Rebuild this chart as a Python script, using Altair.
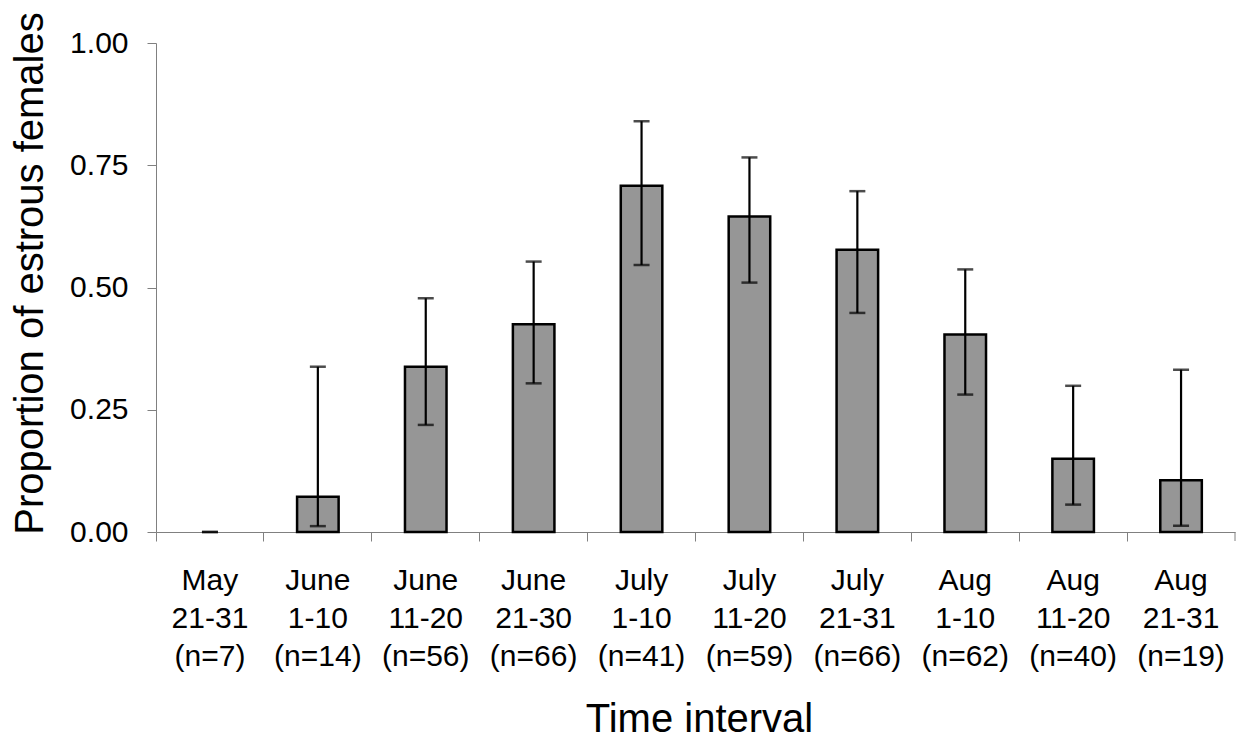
import altair as alt
import pandas as pd

months = ["May", "June", "June", "June", "July", "July", "July", "Aug", "Aug", "Aug"]
ranges = ["21-31", "1-10", "11-20", "21-30", "1-10", "11-20", "21-31", "1-10", "11-20", "21-31"]
sample_n = [7, 14, 56, 66, 41, 59, 66, 62, 40, 19]
proportion = [0.0, 0.072, 0.338, 0.425, 0.708, 0.645, 0.577, 0.404, 0.150, 0.106]
upper = [0.0, 0.338, 0.478, 0.553, 0.840, 0.766, 0.697, 0.537, 0.299, 0.332]
lower = [0.0, 0.012, 0.219, 0.304, 0.546, 0.510, 0.448, 0.281, 0.056, 0.013]

labels = [f"{m}\n{r}\n(n={n})" for m, r, n in zip(months, ranges, sample_n)]
df = pd.DataFrame({"label": labels, "value": proportion, "upper": upper, "lower": lower})

FONT = "Liberation Sans"
W, H = 1079, 489

x_enc = alt.X(
    "label:N",
    sort=labels,
    scale=alt.Scale(paddingInner=0, paddingOuter=0),
    axis=alt.Axis(
        bandPosition=0,
        tickSize=9,
        labelPadding=24,
        labelFontSize=30,
        labelLineHeight=38,
        labelAngle=0,
        labelBaseline="top",
        labelColor="black",
        labelFont=FONT,
        labelOverlap=False,
        labelExpr="split(datum.label, '\\n')",
        domainColor="#808080",
        tickColor="#808080",
        domainWidth=1,
        tickWidth=1,
        grid=False,
        title="Time interval",
        titleFont=FONT,
        titleFontSize=40,
        titleFontWeight="normal",
        titleColor="black",
        titleBaseline="alphabetic",
        titleY=199,
        titleX=543,
    ),
)

y_axis = alt.Axis(
    values=[0, 0.25, 0.5, 0.75, 1.0],
    format=".2f",
    tickSize=9,
    labelPadding=19,
    labelFontSize=30,
    labelColor="black",
    labelFont=FONT,
    domainColor="#808080",
    tickColor="#808080",
    domainWidth=1,
    tickWidth=1,
    grid=False,
    title="Proportion of estrous females",
    titleFont=FONT,
    titleFontSize=40,
    titleFontWeight="normal",
    titleColor="black",
    titleAngle=270,
    titleAlign="center",
    titleBaseline="alphabetic",
    titleX=-114,
    titleY=230,
)

base = alt.Chart(df)

bars = base.transform_filter("datum.value > 0").mark_bar(
    color="#969696", stroke="black", strokeWidth=2.5, width=alt.RelativeBandSize(0.385)
).encode(
    x=x_enc,
    y=alt.Y("value:Q", scale=alt.Scale(domain=[0, 1]), axis=y_axis),
)

err = base.mark_rule(color="black", strokeWidth=2.2).encode(
    x=alt.X("label:N", sort=labels),
    y="lower:Q",
    y2="upper:Q",
)

cap_hi = base.mark_tick(color="black", thickness=2.5, size=16).encode(
    x=alt.X("label:N", sort=labels), y="upper:Q"
)
cap_lo = base.mark_tick(color="black", thickness=2.5, size=16).encode(
    x=alt.X("label:N", sort=labels), y="lower:Q"
)

end_tick = alt.Chart(pd.DataFrame({"a": [0]})).mark_rule(color="#808080", strokeWidth=1).encode(
    x=alt.value(W), y=alt.value(H), y2=alt.value(H + 9)
)

chart = alt.layer(bars, err, cap_hi, cap_lo, end_tick).properties(
    width=W,
    height=H,
    background="white",
    autosize=alt.AutoSizeParams(type="none"),
    padding={"left": 156, "top": 43, "right": 11, "bottom": 206},
).configure_view(stroke="transparent", strokeWidth=0)

chart.save("out.html", embed_options={"renderer": "svg", "actions": False})
